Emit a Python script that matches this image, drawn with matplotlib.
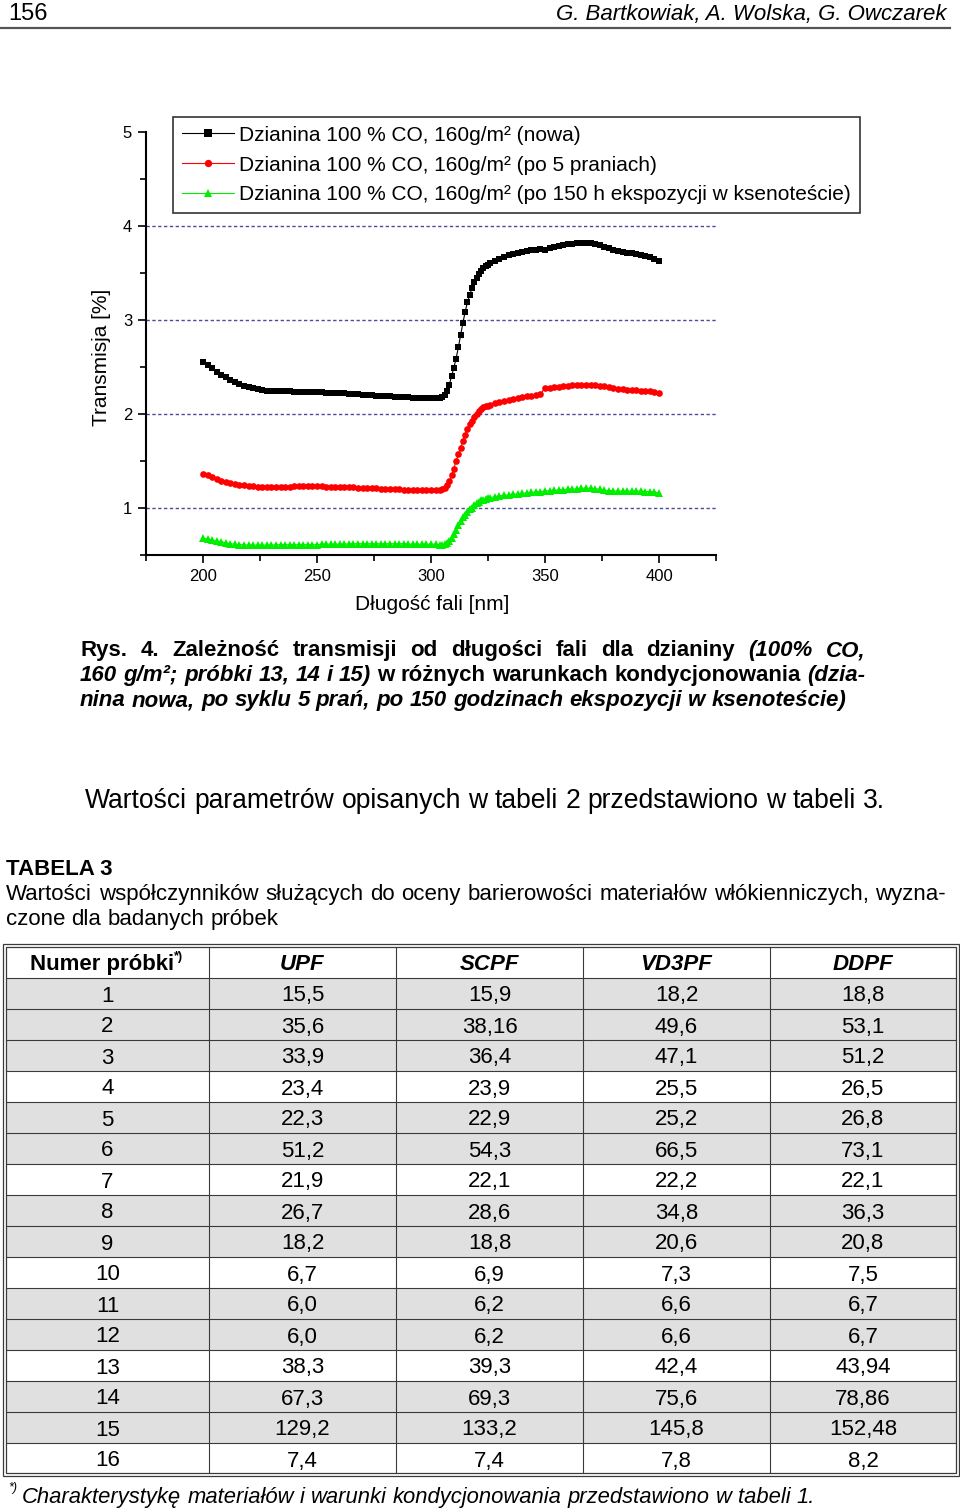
import matplotlib
matplotlib.use("Agg")
import matplotlib.pyplot as plt
import numpy as np
from matplotlib.patches import Rectangle
from matplotlib.ticker import MultipleLocator

plt.rcParams["font.family"] = ["Liberation Sans", "DejaVu Sans"]

W, H = 960, 1512

# dane wykresu (krok 2 nm, w zboczu 1 nm)
wavelength = np.concatenate([np.arange(200, 304, 2), np.arange(304, 327), np.arange(328, 401, 2)])

t_new = [
    2.55, 2.52, 2.49, 2.45, 2.42, 2.39, 2.36, 2.34, 2.32, 2.30,
    2.29, 2.28, 2.27, 2.26, 2.25, 2.25, 2.24, 2.24, 2.24, 2.24,
    2.23, 2.23, 2.23, 2.23, 2.23, 2.23, 2.23, 2.22, 2.22, 2.22,
    2.22, 2.22, 2.21, 2.21, 2.21, 2.20, 2.20, 2.20, 2.19, 2.19,
    2.19, 2.19, 2.18, 2.18, 2.18, 2.18, 2.17, 2.17, 2.17, 2.17,
    2.17, 2.17,
    2.17, 2.18, 2.20, 2.24, 2.31, 2.40, 2.49, 2.59, 2.71, 2.84,
    2.97, 3.09, 3.19, 3.27, 3.34, 3.40, 3.45, 3.49, 3.52, 3.55,
    3.57, 3.59, 3.61,
    3.63, 3.65, 3.67, 3.69, 3.70, 3.71, 3.72, 3.73, 3.74, 3.75,
    3.76, 3.75, 3.77, 3.78, 3.79, 3.80, 3.81, 3.81, 3.82, 3.82,
    3.82, 3.82, 3.81, 3.80, 3.78, 3.77, 3.75, 3.73, 3.72, 3.71,
    3.71, 3.70, 3.69, 3.68, 3.67, 3.65, 3.63,
]
t_washed = [
    1.36, 1.35, 1.33, 1.31, 1.29, 1.28, 1.27, 1.26, 1.25, 1.24,
    1.235, 1.23, 1.225, 1.22, 1.22, 1.22, 1.22, 1.225, 1.225, 1.225,
    1.23, 1.23, 1.23, 1.23, 1.23, 1.23, 1.23, 1.225, 1.225, 1.225,
    1.22, 1.22, 1.22, 1.22, 1.215, 1.215, 1.21, 1.21, 1.21, 1.205,
    1.205, 1.20, 1.20, 1.20, 1.195, 1.195, 1.195, 1.19, 1.19, 1.19,
    1.19, 1.19,
    1.19, 1.20, 1.21, 1.24, 1.29, 1.35, 1.42, 1.50, 1.57, 1.64,
    1.71, 1.78, 1.84, 1.89, 1.93, 1.97, 2.00, 2.03, 2.05, 2.07,
    2.08, 2.09, 2.10,
    2.12, 2.13, 2.14, 2.15, 2.16, 2.17, 2.18, 2.19, 2.19, 2.20,
    2.21, 2.28, 2.28, 2.29, 2.29, 2.30, 2.30, 2.31, 2.31, 2.31,
    2.31, 2.31, 2.31, 2.30, 2.30, 2.29, 2.28, 2.27, 2.27, 2.26,
    2.26, 2.26, 2.25, 2.25, 2.24, 2.23, 2.22,
]
t_xenon = [
    0.68, 0.67, 0.66, 0.65, 0.64, 0.63, 0.62, 0.615, 0.61, 0.61,
    0.605, 0.605, 0.605, 0.605, 0.605, 0.605, 0.61, 0.61, 0.61, 0.61,
    0.61, 0.61, 0.61, 0.61, 0.61, 0.61, 0.615, 0.615, 0.615, 0.615,
    0.615, 0.615, 0.62, 0.62, 0.62, 0.62, 0.62, 0.62, 0.62, 0.62,
    0.62, 0.62, 0.62, 0.62, 0.62, 0.615, 0.615, 0.615, 0.615, 0.615,
    0.615, 0.615,
    0.61, 0.61, 0.62, 0.63, 0.65, 0.68, 0.72, 0.77, 0.82, 0.86,
    0.90, 0.93, 0.96, 0.985, 1.005, 1.03, 1.05, 1.065, 1.08, 1.09,
    1.10, 1.105, 1.11,
    1.12, 1.13, 1.135, 1.14, 1.145, 1.15, 1.155, 1.16, 1.165, 1.17,
    1.175, 1.18, 1.185, 1.19, 1.19, 1.195, 1.20, 1.20, 1.205, 1.21,
    1.21, 1.21, 1.205, 1.20, 1.19, 1.185, 1.18, 1.18, 1.18, 1.18,
    1.18, 1.18, 1.18, 1.175, 1.175, 1.17, 1.16,
]

series_labels = [
    "Dzianina 100 % CO, 160g/m² (nowa)",
    "Dzianina 100 % CO, 160g/m² (po 5 praniach)",
    "Dzianina 100 % CO, 160g/m² (po 150 h ekspozycji w ksenoteście)",
]
series_colors = ["#000000", "#ff0000", "#00ee00"]
series_markers = ["s", "o", "^"]
grid_levels = [1, 2, 3, 4]

# tabela 3
table_cols = ["UPF", "SCPF", "VD3PF", "DDPF"]
sample_no = [str(i) for i in range(1, 17)]
upf = ["15,5", "35,6", "33,9", "23,4", "22,3", "51,2", "21,9", "26,7",
       "18,2", "6,7", "6,0", "6,0", "38,3", "67,3", "129,2", "7,4"]
scpf = ["15,9", "38,16", "36,4", "23,9", "22,9", "54,3", "22,1", "28,6",
        "18,8", "6,9", "6,2", "6,2", "39,3", "69,3", "133,2", "7,4"]
vd3pf = ["18,2", "49,6", "47,1", "25,5", "25,2", "66,5", "22,2", "34,8",
         "20,6", "7,3", "6,6", "6,6", "42,4", "75,6", "145,8", "7,8"]
ddpf = ["18,8", "53,1", "51,2", "26,5", "26,8", "73,1", "22,1", "36,3",
        "20,8", "7,5", "6,7", "6,7", "43,94", "78,86", "152,48", "8,2"]
shaded_rows = [1, 2, 3, 5, 6, 8, 9, 11, 12, 14, 15]

fig = plt.figure(figsize=(W / 100, H / 100), dpi=100)
page = fig.add_axes([0, 0, 1, 1])
page.set_xlim(0, W)
page.set_ylim(H, 0)
page.axis("off")
renderer = fig.canvas.get_renderer()

STYLES = {"r": ("normal", "normal"), "i": ("normal", "italic"),
          "b": ("bold", "normal"), "bi": ("bold", "italic")}


def width_of(txt, size, st):
    wt, sl = STYLES[st]
    t = page.text(0, 0, txt, fontsize=size, fontweight=wt, fontstyle=sl)
    w = t.get_window_extent(renderer).width
    t.remove()
    return w


def text_line(runs, x0, y, size, x1=None):
    words = []
    for txt, st in runs:
        for w in txt.split():
            words.append((w, st))
    objs = []
    for w, st in words:
        wt, sl = STYLES[st]
        objs.append(page.text(x0, y, w, fontsize=size, fontweight=wt, fontstyle=sl,
                              ha="left", va="baseline"))
    widths = [o.get_window_extent(renderer).width for o in objs]
    if x1 is None:
        st = words[0][1]
        gap = width_of("a a", size, st) - width_of("aa", size, st)
    else:
        gap = (x1 - x0 - sum(widths)) / (len(objs) - 1)
    x = x0
    for o, w in zip(objs, widths):
        o.set_x(x)
        x += w + gap


# naglowek strony
page.text(8, 20, "156", fontsize=17, ha="left", va="baseline")
page.text(946, 20, "G. Bartkowiak, A. Wolska, G. Owczarek", fontsize=16,
          fontstyle="italic", ha="right", va="baseline")
page.plot([0, 950], [28, 28], color="#555555", lw=1.6)

# wykres
ax = fig.add_axes([146 / W, 1 - 555 / H, 570 / W, 423 / H])
ax.set_facecolor("none")
for y, lab, c, m in zip([t_new, t_washed, t_xenon], series_labels, series_colors, series_markers):
    ax.plot(wavelength, y, color=c, marker=m, ms=5.4 if m == "^" else 4.8, mew=0,
            lw=0.8, label=lab)
for v in grid_levels:
    ax.axhline(v, color="#4b4b9b", lw=1.0, linestyle=(0, (2.4, 1.8)), zorder=0)

ax.set_xlim(175, 425)
ax.set_ylim(0.5, 5)
ax.xaxis.set_major_locator(MultipleLocator(50))
ax.xaxis.set_minor_locator(MultipleLocator(25))
ax.yaxis.set_major_locator(MultipleLocator(1))
ax.yaxis.set_minor_locator(MultipleLocator(0.5))
for s in ["top", "right"]:
    ax.spines[s].set_visible(False)
for s in ["left", "bottom"]:
    ax.spines[s].set_linewidth(1.5)
ax.tick_params(which="major", length=6, width=1.2, labelsize=12, pad=4)
ax.tick_params(which="minor", length=4, width=1.2)
ax.set_xlabel("Długość fali [nm]", fontsize=15)
ax.xaxis.set_label_coords(0.502, -0.095)
ax.set_ylabel("Transmisja [%]", fontsize=15)
ax.yaxis.set_label_coords(-0.062, 0.467)

leg = ax.legend(loc="upper left", bbox_to_anchor=(173 / W, 1 - 117 / H),
                bbox_transform=fig.transFigure, borderaxespad=0, fontsize=15,
                fancybox=False, edgecolor="#333333", framealpha=1, borderpad=0.42,
                handlelength=2.5, handletextpad=0.25, labelspacing=0.52, markerscale=1.1)
leg.get_frame().set_linewidth(1.2)

# podpis rysunku
text_line([("Rys. 4. Zależność transmisji od długości fali dla dzianiny", "b"),
           ("(100% CO,", "bi")], 80, 656, 16, x1=865)
text_line([("160 g/m²; próbki 13, 14 i 15)", "bi"),
           ("w różnych warunkach kondycjonowania", "b"),
           ("(dzia-", "bi")], 80, 681, 16, x1=865)
text_line([("nina nowa, po syklu 5 prań, po 150 godzinach ekspozycji w ksenoteście)", "bi")],
          80, 706, 16)

text_line([("Wartości parametrów opisanych w tabeli 2 przedstawiono w tabeli 3.", "r")],
          85, 808, 19.1)

page.text(6, 875, "TABELA 3", fontsize=16, fontweight="bold", ha="left", va="baseline")
text_line([("Wartości współczynników służących do oceny barierowości materiałów "
            "włókienniczych, wyzna-", "r")], 6, 900, 16, x1=946)
text_line([("czone dla badanych próbek", "r")], 6, 925, 16)

# tabela
col_edges = [6, 209, 396, 583, 770, 956]
col_centers = [(a + b) / 2 for a, b in zip(col_edges[:-1], col_edges[1:])]
header_top, row_top, row_h = 947, 978, 31
line_c = "#3a3a3a"
for i in range(len(sample_no)):
    if i + 1 in shaded_rows:
        page.add_patch(Rectangle((6, row_top + i * row_h), 950, row_h,
                                 fc="#e0e0e0", ec="none", zorder=1))
for k in range(len(sample_no)):
    yy = row_top + k * row_h
    page.plot([6, 956], [yy, yy], color=line_c, lw=0.8, zorder=2)
for xx in col_edges[1:-1]:
    page.plot([xx, xx], [header_top, 1473], color=line_c, lw=0.8, zorder=2)
page.add_patch(Rectangle((3, 944), 956, 532, fc="none", ec=line_c, lw=0.9, zorder=3))
page.add_patch(Rectangle((6, 947), 950, 526, fc="none", ec=line_c, lw=0.9, zorder=3))

page.text(102, 970, "Numer próbki", fontsize=16, fontweight="bold", ha="center",
          va="baseline", zorder=4)
page.text(174, 960, "*)", fontsize=9, fontweight="bold", ha="left", va="baseline", zorder=4)
for cx, name in zip(col_centers[1:], table_cols):
    page.text(cx, 970, name, fontsize=16, fontweight="bold", fontstyle="italic",
              ha="center", va="baseline", zorder=4)

for i, row in enumerate(zip(sample_no, upf, scpf, vd3pf, ddpf)):
    base = row_top + i * row_h + row_h / 2 + 8
    for cx, val in zip(col_centers, row):
        page.text(cx, base, val, fontsize=16, ha="center", va="baseline", zorder=4)

# przypis
page.text(8, 1491, "*)", fontsize=9, fontstyle="italic", ha="left", va="baseline")
text_line([("Charakterystykę materiałów i warunki kondycjonowania przedstawiono w tabeli 1.", "i")],
          22, 1503, 15.8)

fig.savefig("out.png", dpi=100)
